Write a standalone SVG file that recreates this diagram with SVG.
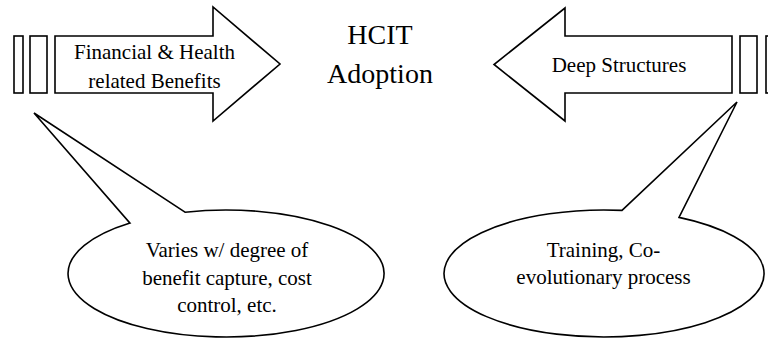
<svg xmlns="http://www.w3.org/2000/svg" width="768" height="339" viewBox="0 0 768 339">
<style>
.s{fill:#fff;stroke:#000;stroke-width:1.6;stroke-linejoin:miter}
.t{font-family:"Liberation Serif","Times New Roman",serif;font-size:21px;fill:#000;text-anchor:middle}
.h{font-family:"Liberation Serif","Times New Roman",serif;font-size:28px;fill:#000;text-anchor:middle}
</style>
<rect width="768" height="339" fill="#fff"/>
<g id="left-bars">
<rect class="s" x="14" y="36" width="9" height="57"/>
<rect class="s" x="30" y="36" width="17" height="57"/>
</g>
<g id="left-arrow">
<path class="s" d="M55 36 L213 36 L213 7 L280 64 L213 121 L213 93 L55 93 Z"/>
<text class="t" x="154.5" y="59">Financial &amp; Health</text>
<text class="t" x="154.5" y="88">related Benefits</text>
</g>
<g id="title">
<text class="h" x="380" y="44">HCIT</text>
<text class="h" x="380" y="83">Adoption</text>
</g>
<g id="right-arrow">
<path class="s" d="M732 36 L565 36 L565 8 L494 64.5 L565 121 L565 93 L732 93 Z"/>
<text class="t" x="619" y="72">Deep Structures</text>
</g>
<g id="right-bars">
<rect class="s" x="740" y="36" width="17" height="57"/>
<rect class="s" x="766" y="36" width="9" height="57"/>
</g>
<g id="left-callout">
<path class="s" d="M185 212.2 L34 113 L130 223.1 A158 63.5 0 1 0 185 212.2 Z"/>
<text class="t" x="227" y="257">Varies w/ degree of</text>
<text class="t" x="227" y="285">benefit capture, cost</text>
<text class="t" x="227" y="312">control, etc.</text>
</g>
<g id="right-callout">
<path class="s" d="M622 210.4 L737 102 L679 217.4 A160 63.5 0 1 1 622 210.4 Z"/>
<text class="t" x="603.5" y="257">Training, Co-</text>
<text class="t" x="603.5" y="284">evolutionary process</text>
</g>
<g id="connectors"/>
</svg>
